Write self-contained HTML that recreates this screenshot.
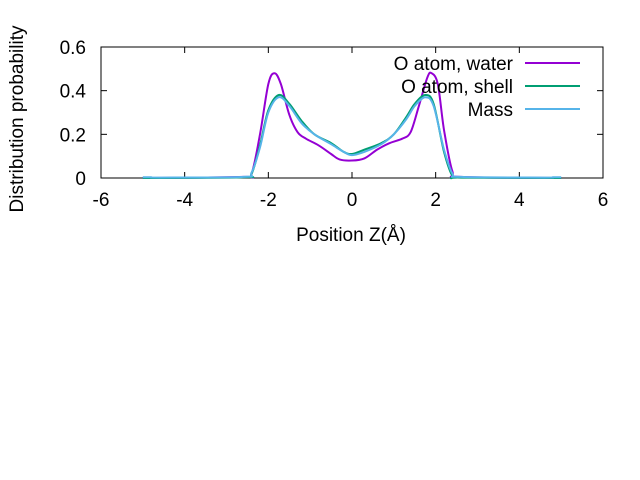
<!DOCTYPE html>
<html><head><meta charset="utf-8"><style>
body{margin:0;background:#fff;}
svg{display:block;font-family:"Liberation Sans",sans-serif;}
</style></head><body>
<svg id="chart" width="640" height="480">
<rect width="640" height="480" fill="#fff"/>
<g id="axes"></g>
<g id="series"></g>
<g id="legend"></g>
<text x="351" y="241" font-size="19" text-anchor="middle">Position Z(Å)</text>
<text transform="translate(23,119) rotate(-90)" font-size="19" text-anchor="middle">Distribution probability</text>
</svg>
<script>
const xTicks=[-6,-4,-2,0,2,4,6];
const yTicks=[0,0.2,0.4,0.6];
const yTickLabels=["0","0.2","0.4","0.6"];
const seriesNames=["O atom, water","O atom, shell","Mass"];
const seriesColors=["#9400d3","#009e73","#56b4e9"];
const waterZ=[-5,-2.6,-2.4,-2.2,-2.0,-1.85,-1.7,-1.5,-1.3,-1.1,-0.8,-0.5,-0.3,0,0.3,0.6,0.9,1.2,1.4,1.6,1.8,1.9,2.05,2.2,2.4,2.6,5];
const waterP=[0,0.005,0.02,0.2,0.43,0.48,0.43,0.29,0.21,0.18,0.15,0.11,0.085,0.08,0.09,0.13,0.16,0.18,0.21,0.33,0.46,0.48,0.43,0.22,0.03,0.005,0];
const shellZ=[-5,-2.6,-2.4,-2.2,-2.0,-1.75,-1.5,-1.2,-0.9,-0.5,-0.2,0,0.3,0.7,1.0,1.3,1.5,1.75,1.95,2.2,2.4,2.6,5];
const shellP=[0,0.003,0.02,0.15,0.31,0.38,0.34,0.26,0.2,0.16,0.12,0.11,0.13,0.16,0.2,0.28,0.34,0.38,0.34,0.12,0.01,0.002,0];
const massZ=[-5,-4.8,-4.6,-2.6,-2.4,-2.2,-2.0,-1.75,-1.5,-1.2,-0.9,-0.5,-0.2,0,0.3,0.7,1.0,1.3,1.5,1.75,1.95,2.2,2.4,2.6,4.6,4.8,5];
const massP=[0.003,0.003,0.002,0.005,0.025,0.14,0.3,0.37,0.33,0.25,0.2,0.155,0.12,0.105,0.12,0.155,0.2,0.27,0.33,0.37,0.33,0.13,0.02,0.005,0.002,0.003,0.003];
const L=101,R=603,T=47,B=178;
const xs=v=>L+(v+6)/12*(R-L);
const ys=v=>B-v/0.6*(B-T);
const NS="http://www.w3.org/2000/svg";
function mk(t,a,p){const e=document.createElementNS(NS,t);for(const k in a)e.setAttribute(k,a[k]);p.appendChild(e);return e;}
function smooth(P){
 let d='M'+P[0][0].toFixed(1)+','+P[0][1].toFixed(1);
 for(let i=0;i<P.length-1;i++){
  const p0=P[Math.max(i-1,0)],p1=P[i],p2=P[i+1],p3=P[Math.min(i+2,P.length-1)];
  const c1x=p1[0]+(p2[0]-p0[0])/6,c1y=p1[1]+(p2[1]-p0[1])/6;
  const c2x=p2[0]-(p3[0]-p1[0])/6,c2y=p2[1]-(p3[1]-p1[1])/6;
  d+=' C'+[c1x,c1y,c2x,c2y,p2[0],p2[1]].map(v=>v.toFixed(1)).join(',');
 }
 return d;
}
const ax=document.getElementById('axes');
const frame=mk('rect',{x:L,y:T,width:R-L,height:B-T,fill:'none',stroke:'#000','stroke-width':1},ax);


xTicks.forEach(v=>{
 const x=xs(v);
 mk('line',{x1:x,y1:B,x2:x,y2:B-6,stroke:'#000'},ax);
 mk('line',{x1:x,y1:T,x2:x,y2:T+6,stroke:'#000'},ax);
 const t=mk('text',{x:x,y:B+28,'font-size':19,'text-anchor':'middle'},ax);
 t.textContent=v;
 
 
});
yTicks.forEach((v,i)=>{
 const y=ys(v);
 mk('line',{x1:L,y1:y,x2:L+6,y2:y,stroke:'#000'},ax);
 mk('line',{x1:R,y1:y,x2:R-6,y2:y,stroke:'#000'},ax);
 const t=mk('text',{x:L-15,y:y+7,'font-size':19,'text-anchor':'end'},ax);
 t.textContent=yTickLabels[i];
 
 
});
const sg=document.getElementById('series');
[[waterZ,waterP],[shellZ,shellP],[massZ,massP]].forEach((d,i)=>{
 const P=d[0].map((z,j)=>[xs(z),ys(d[1][j])]);
 const p=mk('path',{d:smooth(P),fill:'none',stroke:seriesColors[i],'stroke-width':2,'stroke-linejoin':'round'},sg);
 
 
});
const lg=document.getElementById('legend');
seriesNames.forEach((n,i)=>{
 const y=63+i*23;
 const t=mk('text',{x:513,y:y+7,'font-size':19,'text-anchor':'end'},lg);
 t.textContent=n;
 
 
 const l=mk('line',{x1:525,y1:y,x2:580,y2:y,stroke:seriesColors[i],'stroke-width':2},lg);
 
 
});
</script>
</body></html>
